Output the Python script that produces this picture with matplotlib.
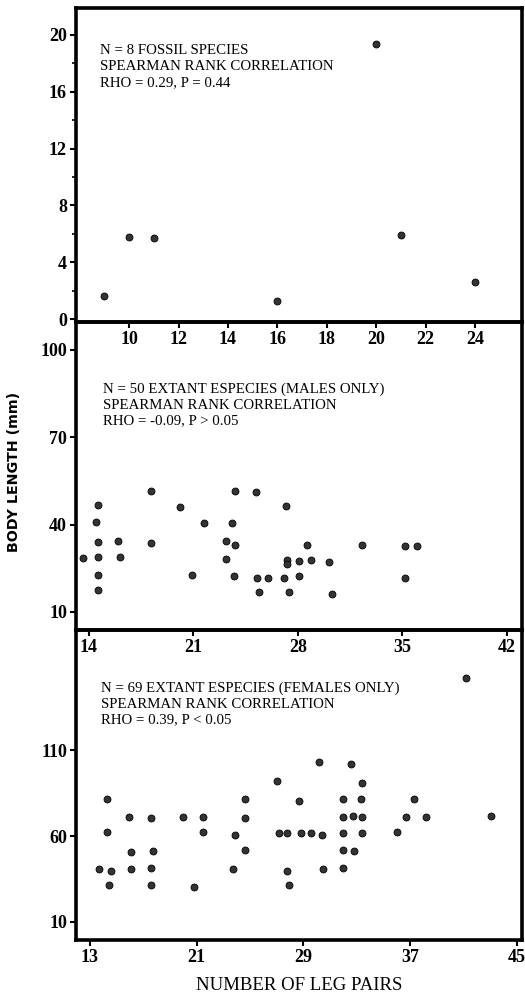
import matplotlib
matplotlib.use("Agg")
import matplotlib.pyplot as plt
from matplotlib.ticker import MultipleLocator

# fossil species
fossil_legs = [9, 10, 11, 16, 20, 21, 24]
fossil_len = [1.6, 5.8, 5.7, 1.3, 19.4, 5.9, 2.6]

# extant males
male_legs = [18.2, 14.6, 14.5, 20.1, 21.7, 23.6, 23.8, 25.2, 27.2,
             13.6, 14.6, 14.6, 14.6, 14.6, 16.0, 16.1, 18.2, 20.9, 23.2,
             23.8, 23.2, 23.7, 25.3, 26.0, 25.4, 27.1, 27.3, 27.3, 27.4,
             28.1, 28.1, 28.6, 28.9, 30.1, 30.3, 32.3, 35.2, 36.0, 35.2]
male_len = [51.4, 46.6, 40.8, 46.0, 40.5, 40.5, 51.4, 51.1, 46.3,
            28.5, 34.0, 28.8, 22.7, 17.5, 34.3, 28.8, 33.6, 22.7, 34.3,
            32.9, 28.2, 22.3, 21.6, 21.6, 16.8, 21.6, 27.8, 26.6, 16.8,
            27.5, 22.3, 32.9, 27.8, 27.1, 16.2, 32.9, 32.6, 32.6, 21.6]

# extant females
female_legs = [41.2, 30.2, 32.6, 27.0, 33.4, 14.3, 24.6, 28.7, 32.0, 33.3,
               37.3, 15.9, 17.6, 20.0, 21.5, 24.6, 32.0, 32.7, 33.4, 36.7,
               38.2, 43.1, 14.3, 21.5, 23.9, 27.2, 27.8, 28.8, 29.6, 30.4,
               32.0, 33.4, 36.0, 16.1, 17.7, 24.6, 32.0, 32.8, 13.7, 14.6,
               16.1, 17.6, 23.7, 27.8, 30.5, 32.0, 14.4, 17.6, 20.8, 27.9]
female_len = [152, 103, 101.9, 92, 90.8, 81.5, 81.5, 80.3, 81.5, 81.5,
              81.5, 71, 70.5, 71, 71, 70.5, 71, 71.6, 71, 71,
              71, 71.6, 62.3, 62.3, 60.6, 61.7, 61.7, 61.7, 61.7, 60.6,
              61.7, 61.7, 62.3, 50.7, 51.3, 51.9, 51.9, 51.3, 40.8, 39.7,
              40.8, 41.4, 40.8, 39.7, 40.8, 41.4, 31.5, 31.5, 30.3, 31.5]

top_text = "N = 8 FOSSIL SPECIES\nSPEARMAN RANK CORRELATION\nRHO = 0.29, P = 0.44"
mid_text = "N = 50 EXTANT ESPECIES (MALES ONLY)\nSPEARMAN RANK CORRELATION\nRHO = -0.09, P > 0.05"
bot_text = "N = 69 EXTANT ESPECIES (FEMALES ONLY)\nSPEARMAN RANK CORRELATION\nRHO = 0.39, P < 0.05"

plt.rcParams["font.family"] = ["Liberation Serif", "DejaVu Serif"]

fig = plt.figure(figsize=(5.25, 9.93), dpi=100)
fig.patch.set_facecolor("white")

left, width = 76 / 525, 446 / 525
ax1 = fig.add_axes([left, 1 - 322 / 993, width, 314 / 993])
ax2 = fig.add_axes([left, 1 - 630 / 993, width, 308 / 993])
ax3 = fig.add_axes([left, 1 - 940 / 993, width, 310 / 993])

panels = [
    (ax1, fossil_legs, fossil_len, (7.85, 25.9), (-0.2, 21.9),
     [10, 12, 14, 16, 18, 20, 22, 24], [0, 4, 8, 12, 16, 20], top_text, (0.054, 0.885)),
    (ax2, male_legs, male_len, (13.16, 43.0), (3.8, 109.6),
     [14, 21, 28, 35, 42], [10, 40, 70, 100], mid_text, (0.06, 0.805)),
    (ax3, female_legs, female_len, (11.95, 45.4), (-0.5, 180),
     [13, 21, 29, 37, 45], [10, 60, 110], bot_text, (0.056, 0.835)),
]

for ax, xs, ys, xl, yl, xt, yt, txt, tpos in panels:
    ax.set_facecolor("none")
    ax.plot(xs, ys, "o", ms=5, mfc="#333333", mec="black", mew=0.6,
            clip_on=False, zorder=3)
    ax.set_xlim(*xl)
    ax.set_ylim(*yl)
    ax.set_xticks(xt)
    ax.set_yticks(yt)
    for sp in ax.spines.values():
        sp.set_linewidth(2.6)
    ax.tick_params(direction="out", length=4, width=1.5, labelsize=13, pad=2.5)
    for lab in ax.get_xticklabels() + ax.get_yticklabels():
        lab.set_fontweight("bold")
    ax.text(tpos[0], tpos[1], txt, transform=ax.transAxes, fontsize=10.7,
            va="top", ha="left", linespacing=1.3)

ax1.yaxis.set_minor_locator(MultipleLocator(2))
ax1.tick_params(axis="y", which="minor", direction="out", length=3, width=1.2)

ax3.set_xlabel("NUMBER OF LEG PAIRS", fontsize=13.5, labelpad=8)
fig.text(0.026, 0.525, "BODY LENGTH (mm)", rotation=90, ha="center", va="center",
         fontsize=10.3, family=["Liberation Sans Narrow", "DejaVu Sans"],
         fontweight="bold")

fig.savefig("out.png", dpi=100)
